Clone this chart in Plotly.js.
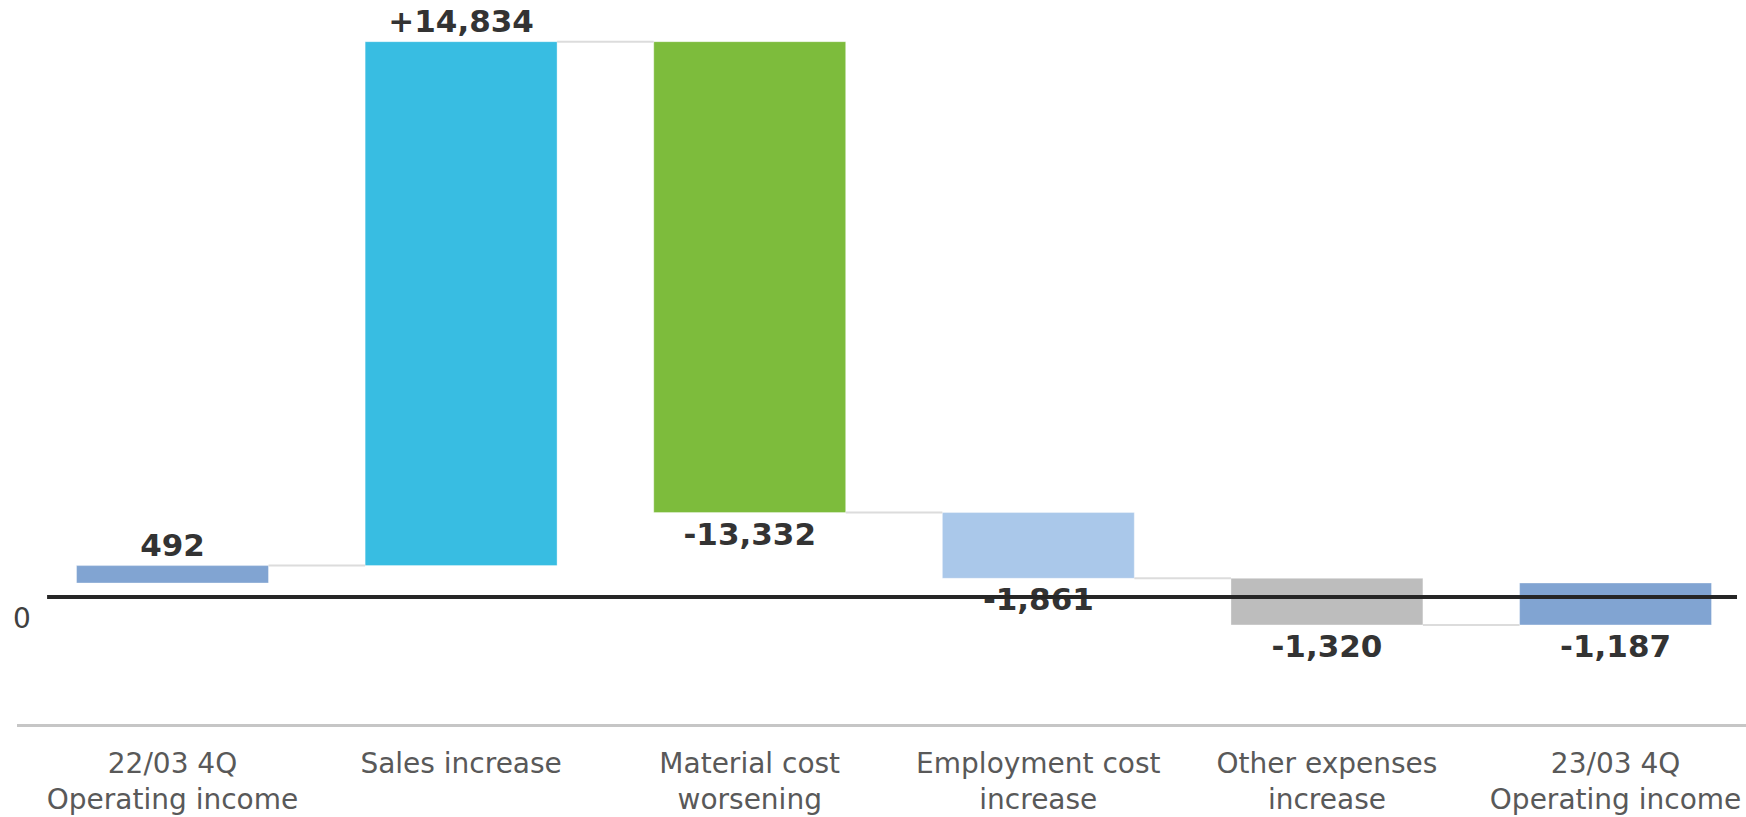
<!DOCTYPE html>
<html>
<head>
<meta charset="utf-8">
<script src="https://cdn.plot.ly/plotly-3.0.1.min.js"></script>
<style>html,body{margin:0;padding:0;background:#fff;}#chart{width:1746px;height:817px;}</style>
</head>
<body>
<div id="chart"></div>
<script>
const categories = [
  "22/03 4Q<br>Operating income",
  "Sales increase",
  "Material cost<br>worsening",
  "Employment cost<br>increase",
  "Other expenses<br>increase",
  "23/03 4Q<br>Operating income"
];
const startValue = 492;
const deltas = [14834, -13332, -1861, -1320];
const endValue = -1187;
const barColors = ["#81A4D2", "#38BDE2", "#7DBC3C", "#AAC8EA", "#BDBDBD", "#81A4D2"];

// build bar heights and bases from the data
const heights = [startValue].concat(deltas).concat([endValue]);
const bases = [0];
let run = startValue;
for (const d of deltas) { bases.push(run); run += d; }
bases.push(0);
const labels = heights.map((v, i) => {
  const s = Math.abs(v).toLocaleString('en-US');
  if (i === 0 || i === heights.length - 1) return (v < 0 ? '-' : '') + s;
  return (v < 0 ? '-' : '+') + s;
});
const xs = categories.map((c, i) => i);
const barW = 0.665;

// connectors between consecutive bars
const levels = [];
run = startValue; levels.push(run);
for (const d of deltas) { run += d; levels.push(run); }
const cx = [], cy = [];
for (let i = 0; i < levels.length; i++) {
  cx.push(i + barW / 2, i + 1 - barW / 2, null);
  cy.push(levels[i], levels[i], null);
}

const traces = [
  {
    type: 'bar', x: xs, y: heights, base: bases, width: barW,
    marker: {color: barColors, line: {color: 'rgba(255,255,255,0.35)', width: 1}},
    text: labels, textposition: 'outside', constraintext: 'none', cliponaxis: false,
    textfont: {family: 'DejaVu Sans', size: 31, color: '#333333', weight: 'bold'},
    hoverinfo: 'skip'
  },
  {
    type: 'scatter', mode: 'lines', x: cx, y: cy,
    line: {color: '#dcdcdc', width: 2}, hoverinfo: 'skip', connectgaps: false
  }
];

const layout = {
  width: 1746, height: 817,
  margin: {l: 17, r: 0, t: 0, b: 93},
  paper_bgcolor: '#ffffff', plot_bgcolor: '#ffffff',
  showlegend: false, hovermode: false,
  font: {family: 'DejaVu Sans', color: '#595959'},
  xaxis: {
    range: [-0.5388, 5.452], tickvals: xs, ticktext: categories,
    tickfont: {family: 'DejaVu Sans', size: 28, color: '#595959'},
    ticklabelstandoff: 12,
    showgrid: false, zeroline: false, ticks: '',
    showline: true, linecolor: '#c6c6c6', linewidth: 3, fixedrange: true
  },
  yaxis: {
    range: [-3992, 16506], showgrid: false, zeroline: false,
    showticklabels: false, ticks: '', showline: false, fixedrange: true
  },
  shapes: [{
    type: 'line', xref: 'paper', yref: 'y', x0: 0.0174, x1: 0.9948, y0: -396, y1: -396,
    line: {color: '#262626', width: 4}, layer: 'above'
  }],
  annotations: [{
    xref: 'paper', yref: 'y', x: 0.0029, y: -991, text: '0', showarrow: false,
    xanchor: 'center', yanchor: 'middle',
    font: {family: 'DejaVu Sans', size: 28, color: '#404040'}
  }]
};

Plotly.newPlot('chart', traces, layout, {staticPlot: true, displayModeBar: false});
</script>
</body>
</html>
